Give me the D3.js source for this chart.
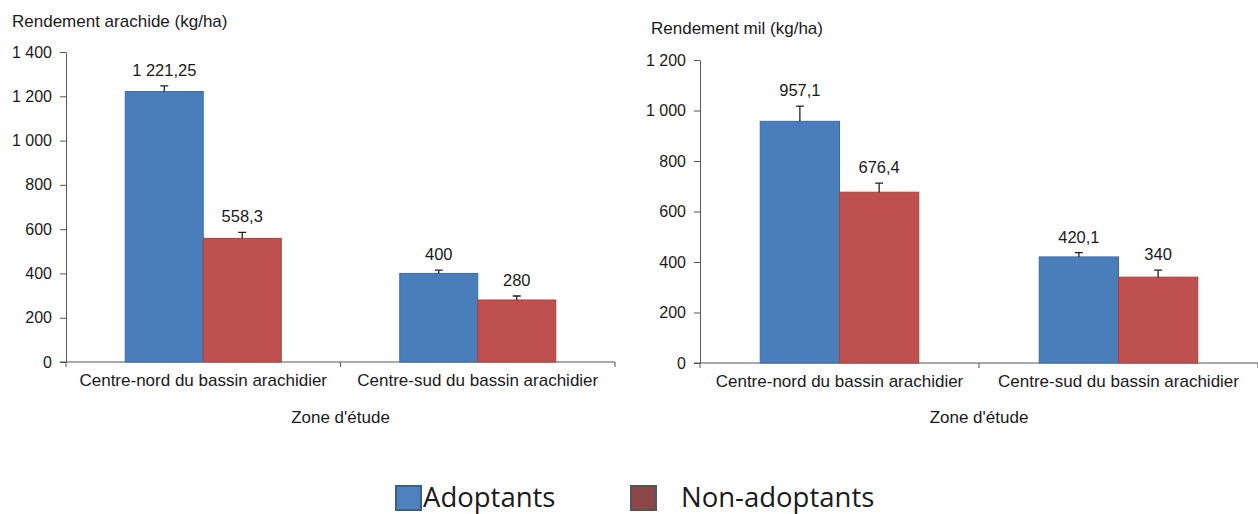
<!DOCTYPE html>
<html>
<head>
<meta charset="utf-8">
<script src="https://cdn.jsdelivr.net/npm/d3@7"></script>
<style>
  body { margin: 0; background: #fff; }
  text { font-family: "Liberation Sans", Arial, sans-serif; fill: #1a1a1a; }
</style>
</head>
<body>
<div class="charts"></div>
<script>
// declare global values
const WIDTH = 1258;
const HEIGHT = 514;

// data
const zones = ["Centre-nord du bassin arachidier", "Centre-sud du bassin arachidier"];
const groups = ["Adoptants", "Non-adoptants"];
const arachideAdoptants = [1221.25, 400];
const arachideNonAdoptants = [558.3, 280];
const arachideErrAdoptants = [26, 15];
const arachideErrNonAdoptants = [27, 18];
const arachideTicks = [0, 200, 400, 600, 800, 1000, 1200, 1400];
const milAdoptants = [957.1, 420.1];
const milNonAdoptants = [676.4, 340];
const milErrAdoptants = [60, 17];
const milErrNonAdoptants = [36, 28];
const milTicks = [0, 200, 400, 600, 800, 1000, 1200];

const COLORS = { Adoptants: "#4a7ebb", "Non-adoptants": "#be5150" };
const STROKES = { Adoptants: "#3b6ba6", "Non-adoptants": "#a8413e" };

// french number format: "1 221,25"
const fr = d3.formatLocale({ decimal: ",", thousands: " ", grouping: [3], currency: ["", " €"] });
const fmt = fr.format(",");

var svg = d3
  .select(".charts")
  .append("svg")
  .attr("width", WIDTH)
  .attr("height", HEIGHT);

const CREATEBARCHART = (opt) => {
  const rows = zones.map((z, i) => ({
    zone: z,
    values: [
      { group: groups[0], value: opt.adopt[i], err: opt.errAdopt[i] },
      { group: groups[1], value: opt.non[i], err: opt.errNon[i] },
    ],
  }));

  var x = d3.scaleBand().domain(zones).range([opt.left, opt.right]).padding(0);
  var x1 = d3.scaleBand().domain(groups).range([0, x.bandwidth()]).paddingInner(0).paddingOuter(0.76);
  var y = d3.scaleLinear().domain([0, d3.max(opt.ticks)]).range([opt.bottom, opt.top]);

  var g = svg.append("g");

  // y axis
  g.append("g")
    .attr("transform", `translate(${opt.left},0)`)
    .call(d3.axisLeft(y).tickValues(opt.ticks).tickFormat(fmt).tickSize(6).tickSizeOuter(0).tickPadding(8))
    .call((a) => a.selectAll("line, path").attr("stroke", "#555"))
    .call((a) => a.selectAll(".tick text").attr("font-size", 16).attr("font-family", null).attr("fill", "#1a1a1a"));

  // x axis: line + ticks at band edges
  var edges = zones.map((z) => x(z)).concat([opt.right]);
  g.append("line")
    .attr("x1", opt.left - 6).attr("x2", opt.right)
    .attr("y1", y(0)).attr("y2", y(0))
    .attr("stroke", "#555");
  g.selectAll(".edge")
    .data(edges)
    .join("line")
    .attr("x1", (d) => d).attr("x2", (d) => d)
    .attr("y1", y(0)).attr("y2", y(0) + 5)
    .attr("stroke", "#555");
  g.selectAll(".xlab")
    .data(zones)
    .join("text")
    .attr("x", (d) => x(d) + x.bandwidth() / 2)
    .attr("y", y(0) + 24)
    .attr("text-anchor", "middle")
    .attr("font-size", 17)
    .text((d) => d);

  // bars
  var grp = g.selectAll(".grp")
    .data(rows)
    .join("g")
    .attr("transform", (d) => `translate(${x(d.zone)},0)`);

  grp.selectAll("rect")
    .data((d) => d.values)
    .join("rect")
    .attr("x", (d) => x1(d.group))
    .attr("y", (d) => y(d.value))
    .attr("width", x1.bandwidth())
    .attr("height", (d) => y(0) - y(d.value))
    .attr("fill", (d) => COLORS[d.group])
    .attr("stroke", (d) => STROKES[d.group])
    .attr("stroke-width", 1);

  // error bars (upper only)
  grp.selectAll(".err")
    .data((d) => d.values)
    .join("path")
    .attr("d", (d) => {
      var cx = x1(d.group) + x1.bandwidth() / 2;
      return `M${cx},${y(d.value)}V${y(d.value + d.err)}M${cx - 4},${y(d.value + d.err)}H${cx + 4}`;
    })
    .attr("stroke", "#222")
    .attr("stroke-width", 1.3)
    .attr("fill", "none");

  // value labels
  grp.selectAll(".val")
    .data((d) => d.values)
    .join("text")
    .attr("x", (d) => x1(d.group) + x1.bandwidth() / 2)
    .attr("y", (d) => y(d.value + d.err) - 10)
    .attr("text-anchor", "middle")
    .attr("font-size", 16.5)
    .text((d) => fmt(d.value));

  // titles
  g.append("text")
    .attr("x", opt.titleX).attr("y", opt.titleY)
    .attr("font-size", 17)
    .text(opt.title);
  g.append("text")
    .attr("x", (opt.left + opt.right) / 2).attr("y", 423)
    .attr("text-anchor", "middle")
    .attr("font-size", 17)
    .text("Zone d'étude");
};

CREATEBARCHART({
  adopt: arachideAdoptants, non: arachideNonAdoptants,
  errAdopt: arachideErrAdoptants, errNon: arachideErrNonAdoptants,
  ticks: arachideTicks, left: 66, right: 615, top: 52, bottom: 362,
  title: "Rendement arachide (kg/ha)", titleX: 12, titleY: 27,
});

CREATEBARCHART({
  adopt: milAdoptants, non: milNonAdoptants,
  errAdopt: milErrAdoptants, errNon: milErrNonAdoptants,
  ticks: milTicks, left: 700, right: 1258, top: 60, bottom: 363,
  title: "Rendement mil (kg/ha)", titleX: 651, titleY: 34,
});

// legend
var legend = svg.append("g");
var legX = [396, 631];
var textX = [423, 681];
var LEGFILL = { Adoptants: "#4f81bd", "Non-adoptants": "#8c4848" };
var LEGSTROKE = { Adoptants: "#3a5f8b", "Non-adoptants": "#555" };
legend.selectAll("rect")
  .data(groups)
  .join("rect")
  .attr("x", (d, i) => legX[i])
  .attr("y", 486)
  .attr("width", 25)
  .attr("height", 24)
  .attr("fill", (d) => LEGFILL[d])
  .attr("stroke", (d) => LEGSTROKE[d])
  .attr("stroke-width", 2);
legend.selectAll("text")
  .data(groups)
  .join("text")
  .attr("x", (d, i) => textX[i])
  .attr("y", 507)
  .attr("font-size", 27.5)
  .style("font-family", "'Open Sans', sans-serif")
  .text((d) => d);
</script>
</body>
</html>
